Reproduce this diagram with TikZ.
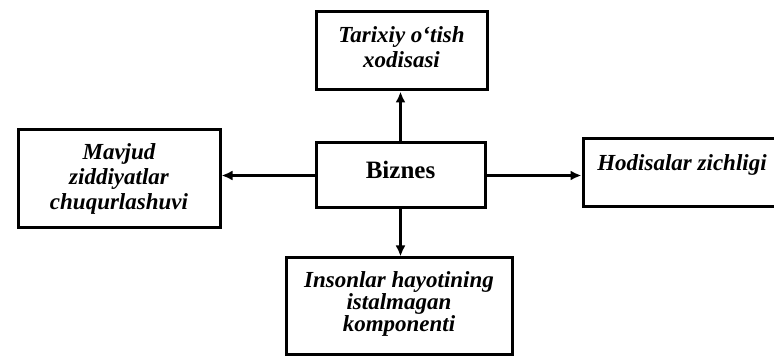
\documentclass[tikz,border=0pt]{standalone}
\usepackage{fontspec}
\setmainfont{Liberation Serif}
\usetikzlibrary{arrows.meta}
\tikzset{blok/.style={rectangle,draw=black,line width=3pt,align=center,inner sep=2pt,
  font=\fontsize{23}{25}\selectfont\bfseries\itshape}}
\tikzset{strelka/.style={-{Latex[length=11pt,width=10pt]},line width=2.4pt}}

\begin{document}
\begin{tikzpicture}[x=1pt,y=1pt]
% \draw[help lines] (0,0) grid (774,356);
\useasboundingbox (0,0) rectangle (774,356);
\node (biz) [blok,minimum width=169pt,minimum height=65pt,text depth=12pt,font=\fontsize{25}{28}\selectfont\bfseries] at (400.5,180.5) {Biznes};
\node (tar) [blok,minimum width=171pt,minimum height=78pt,text depth=8pt] at (401.5,305) {Tarixiy o‘tish\\xodisasi};
\node (mav) [blok,minimum width=202pt,minimum height=98pt] at (119,177) {Mavjud\\ziddiyatlar\\chuqurlashuvi};
\node (hod) [blok,minimum width=198pt,minimum height=68pt,text depth=20pt] at (682,183) {Hodisalar zichligi};
\node (ins) [blok,minimum width=226pt,minimum height=97pt,text depth=9pt,font=\fontsize{23}{22}\selectfont\bfseries\itshape] at (399,49.5) {Insonlar hayotining\\istalmagan\\komponenti};
%
\path[strelka] (biz.north) edge (biz.north |- tar.south);
\path[strelka] (biz.south) edge (biz.south |- ins.north);
\path[strelka] (biz.west) edge (biz.west -| mav.east);
\path[strelka] (biz.east) edge (biz.east -| hod.west);
\end{tikzpicture}
\end{document}
